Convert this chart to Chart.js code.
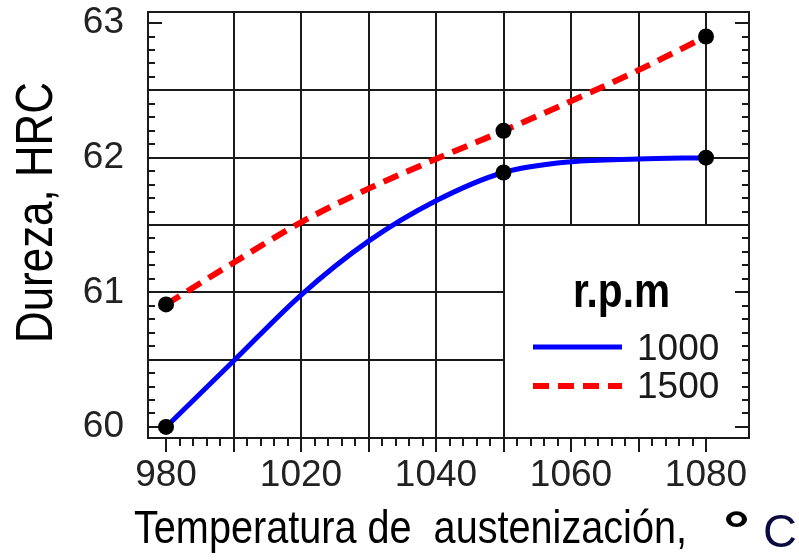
<!DOCTYPE html>
<html>
<head>
<meta charset="utf-8">
<script src="https://cdn.jsdelivr.net/npm/chart.js@4"></script>
<style>
  html, body { margin: 0; padding: 0; background: #fff; }
</style>
</head>
<body>
<canvas id="chart" width="799" height="560"></canvas>
<script>
// Posiciones del eje x (la primera columna se rotula "980" en la figura)
const tickPos = [1000, 1020, 1040, 1060, 1080];
const tickText = ['980', '1020', '1040', '1060', '1080'];
const yTicks = [60, 61, 62, 63];
const gridX = [1010, 1020, 1030, 1040, 1050, 1060, 1070, 1080];
const gridY = [60.5, 61, 61.5, 62, 62.5];

// Puntos medidos
const measPos = [1000, 1050, 1080];
const meas1000 = [60.0, 61.89, 62.0];
const meas1500 = [60.91, 62.2, 62.9];

// Curvas de ajuste
const fit1000Pos = [1000, 1010, 1020, 1030, 1040, 1050, 1060, 1070, 1080];
const fit1000 = [60.0, 60.49, 60.98, 61.38, 61.68, 61.89, 61.97, 61.99, 62.0];
const fit1500Pos = [1000, 1010, 1020, 1030, 1040, 1050, 1060, 1070, 1080];
const fit1500 = [60.91, 61.22, 61.52, 61.77, 61.99, 62.2, 62.42, 62.65, 62.9];

const seriesNames = ['1000', '1500'];
const FONT = '"Liberation Sans", Arial, sans-serif';

const toPoints = (xs, ys) => xs.map((v, i) => ({ x: v, y: ys[i] }));

// texto estrechado (la figura usa una letra tipo "narrow")
function narrowText(ctx, text, font, x, y, width, angle) {
  ctx.save();
  ctx.font = font;
  const w = ctx.measureText(text).width;
  ctx.translate(x, y);
  if (angle) ctx.rotate(angle);
  ctx.scale(width / w, 1);
  ctx.textAlign = 'left';
  ctx.textBaseline = 'alphabetic';
  ctx.fillText(text, 0, 0);
  ctx.restore();
}

const framePlugin = {
  id: 'frame',
  beforeDatasetsDraw(chart) {
    const { ctx, chartArea: a, scales: { x, y } } = chart;
    ctx.save();
    ctx.strokeStyle = '#1a1a1a';
    ctx.lineWidth = 2;

    // rejilla
    ctx.beginPath();
    gridX.forEach(v => {
      const px = Math.round(x.getPixelForValue(v));
      ctx.moveTo(px, a.top); ctx.lineTo(px, a.bottom);
    });
    gridY.forEach(v => {
      const py = Math.round(y.getPixelForValue(v));
      ctx.moveTo(a.left, py); ctx.lineTo(a.right, py);
    });
    ctx.stroke();

    // fondo blanco de la leyenda
    const bx = Math.round(x.getPixelForValue(1050)) + 1;
    const by = Math.round(y.getPixelForValue(61.5)) + 1;
    ctx.fillStyle = '#fff';
    ctx.fillRect(bx, by, a.right - bx, a.bottom - by);

    // marcas menores y mayores
    ctx.beginPath();
    for (let i = 0; i <= 30; i++) {
      const py = Math.round(y.getPixelForValue(60 + i / 10));
      const len = i % 10 === 0 ? 14 : 7;
      ctx.moveTo(a.left, py); ctx.lineTo(a.left + len, py);
      ctx.moveTo(a.right, py); ctx.lineTo(a.right - len, py);
    }
    for (let v = tickPos[0]; v <= tickPos[tickPos.length - 1]; v += 2) {
      const px = Math.round(x.getPixelForValue(v));
      const len = v % 10 === 0 ? 14 : 8;
      ctx.moveTo(px, a.bottom); ctx.lineTo(px, a.bottom + len);
    }
    ctx.stroke();

    ctx.strokeRect(a.left, a.top, a.right - a.left, a.bottom - a.top);
    ctx.restore();
  },
  afterDatasetsDraw(chart) {
    const { ctx } = chart;
    const ds = chart.data.datasets;
    ctx.save();
    ctx.fillStyle = '#000';

    // leyenda
    narrowText(ctx, 'r.p.m', 'bold 48px ' + FONT, 573, 307, 97);
    const rows = [{ d: ds[2], y: 347, ty: 360 }, { d: ds[3], y: 386, ty: 398 }];
    rows.forEach((r, i) => {
      ctx.save();
      ctx.strokeStyle = r.d.borderColor;
      ctx.lineWidth = r.d.borderWidth;
      ctx.setLineDash(r.d.borderDash || []);
      ctx.beginPath();
      ctx.moveTo(533, r.y); ctx.lineTo(622, r.y);
      ctx.stroke();
      ctx.restore();
      ctx.font = '37px ' + FONT;
      ctx.fillStyle = '#1a1a1a';
      ctx.fillText(seriesNames[i], 637, r.ty);
    });

    // titulos de los ejes
    ctx.fillStyle = '#000';
    narrowText(ctx, 'Dureza, HRC', '52px ' + FONT, 52, 343, 261, -Math.PI / 2);
    narrowText(ctx, 'Temperatura de  austenización,', '46px ' + FONT, 134, 543, 553);
    narrowText(ctx, '°', 'bold 50px ' + FONT, 723, 546, 27);
    ctx.font = '47px ' + FONT;
    ctx.fillStyle = '#0a0a40';
    ctx.fillText('C', 763, 547);
    ctx.restore();
  }
};

new Chart(document.getElementById('chart'), {
  type: 'scatter',
  data: {
    datasets: [
      { data: toPoints(measPos, meas1000), pointRadius: 8, pointBackgroundColor: '#000', pointBorderWidth: 0, order: 0 },
      { data: toPoints(measPos, meas1500), pointRadius: 8, pointBackgroundColor: '#000', pointBorderWidth: 0, order: 0 },
      { label: seriesNames[0], data: toPoints(fit1000Pos, fit1000), showLine: true, pointRadius: 0,
        borderColor: '#0000ff', borderWidth: 5, cubicInterpolationMode: 'monotone', order: 1 },
      { label: seriesNames[1], data: toPoints(fit1500Pos, fit1500), showLine: true, pointRadius: 0,
        borderColor: '#ff0000', borderWidth: 6, borderDash: [16, 9], cubicInterpolationMode: 'monotone', order: 1 }
    ]
  },
  options: {
    responsive: false,
    animation: false,
    devicePixelRatio: 1,
    layout: { padding: { top: 12, right: 50, left: 0, bottom: 0 } },
    plugins: { legend: { display: false }, tooltip: { enabled: false } },
    scales: {
      x: {
        type: 'linear',
        min: 997.33,
        max: 1086.37,
        grid: { display: false },
        border: { display: false },
        afterBuildTicks: s => { s.ticks = tickPos.map(v => ({ value: v })); },
        afterFit: s => { s.height = 122; s.paddingLeft = 0; s.paddingRight = 0; },
        ticks: {
          autoSkip: false,
          maxRotation: 0,
          padding: 8,
          color: '#222',
          font: { family: FONT, size: 37 },
          callback: (v, i) => tickText[i]
        }
      },
      y: {
        min: 59.918,
        max: 63.082,
        grid: { display: false },
        border: { display: false },
        afterBuildTicks: s => { s.ticks = yTicks.map(v => ({ value: v })); },
        afterFit: s => { s.width = 148; s.paddingTop = 0; s.paddingBottom = 0; },
        ticks: {
          padding: 16,
          color: '#222',
          font: { family: FONT, size: 37 },
          callback: v => String(v)
        }
      }
    }
  },
  plugins: [framePlugin]
});
</script>
</body>
</html>
